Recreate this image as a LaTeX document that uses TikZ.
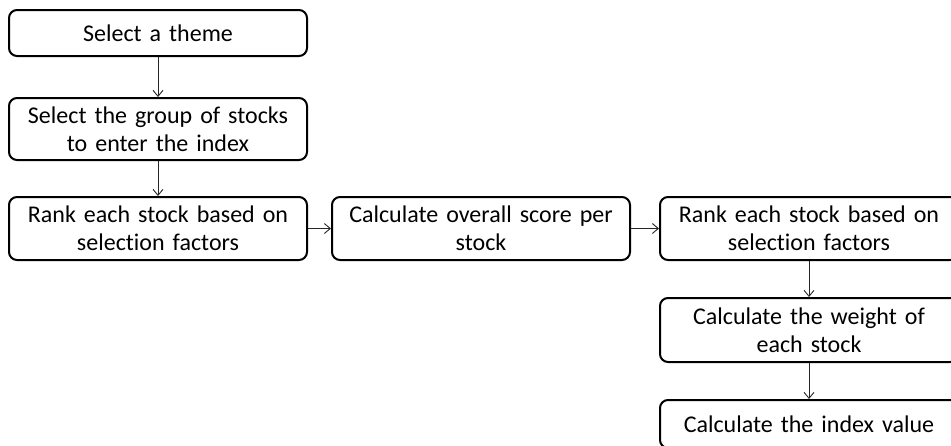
\documentclass[tikz,border=0pt]{standalone}
\usepackage{fontspec}
\setmainfont[Ligatures=NoCommon]{Carlito}
\usetikzlibrary{arrows.meta}
\begin{document}
\begin{tikzpicture}[x=1pt,y=-1pt,
  box/.style={draw=black, line width=2pt, rounded corners=8pt, fill=white,
    minimum width=298pt, text width=292pt, align=center, inner sep=0pt,
    font=\fontsize{24}{28}\selectfont},
  conn/.style={draw=black!85, line width=0.9pt, -{Straight Barb[length=6pt,width=10pt]}}]
\useasboundingbox (0,0) rectangle (951,445);
\node[box, minimum height=46pt] (b1) at (158,33) {Select a theme};
\node[box, minimum height=62pt] (b2) at (158,129) {Select the group of stocks\\to enter the index};
\node[box, minimum height=63pt] (b3) at (158,228.5) {Rank each stock based on\\selection factors};
\node[box, minimum height=63pt] (b4) at (481,228.5) {Calculate overall score per\\stock};
\node[box, minimum height=63pt] (b5) at (809,228.5) {Rank each stock based on\\selection factors};
\node[box, minimum height=64pt] (b6) at (809,330) {Calculate the weight of\\each stock};
\node[box, minimum height=48pt] (b7) at (809,424) {Calculate the index value};
\draw[conn] (b1) -- (b2);
\draw[conn] (b2) -- (b3);
\draw[conn] (b3) -- (b4);
\draw[conn] (b4) -- (b5);
\draw[conn] (b5) -- (b6);
\draw[conn] (b6) -- (b7);
\end{tikzpicture}
\end{document}
